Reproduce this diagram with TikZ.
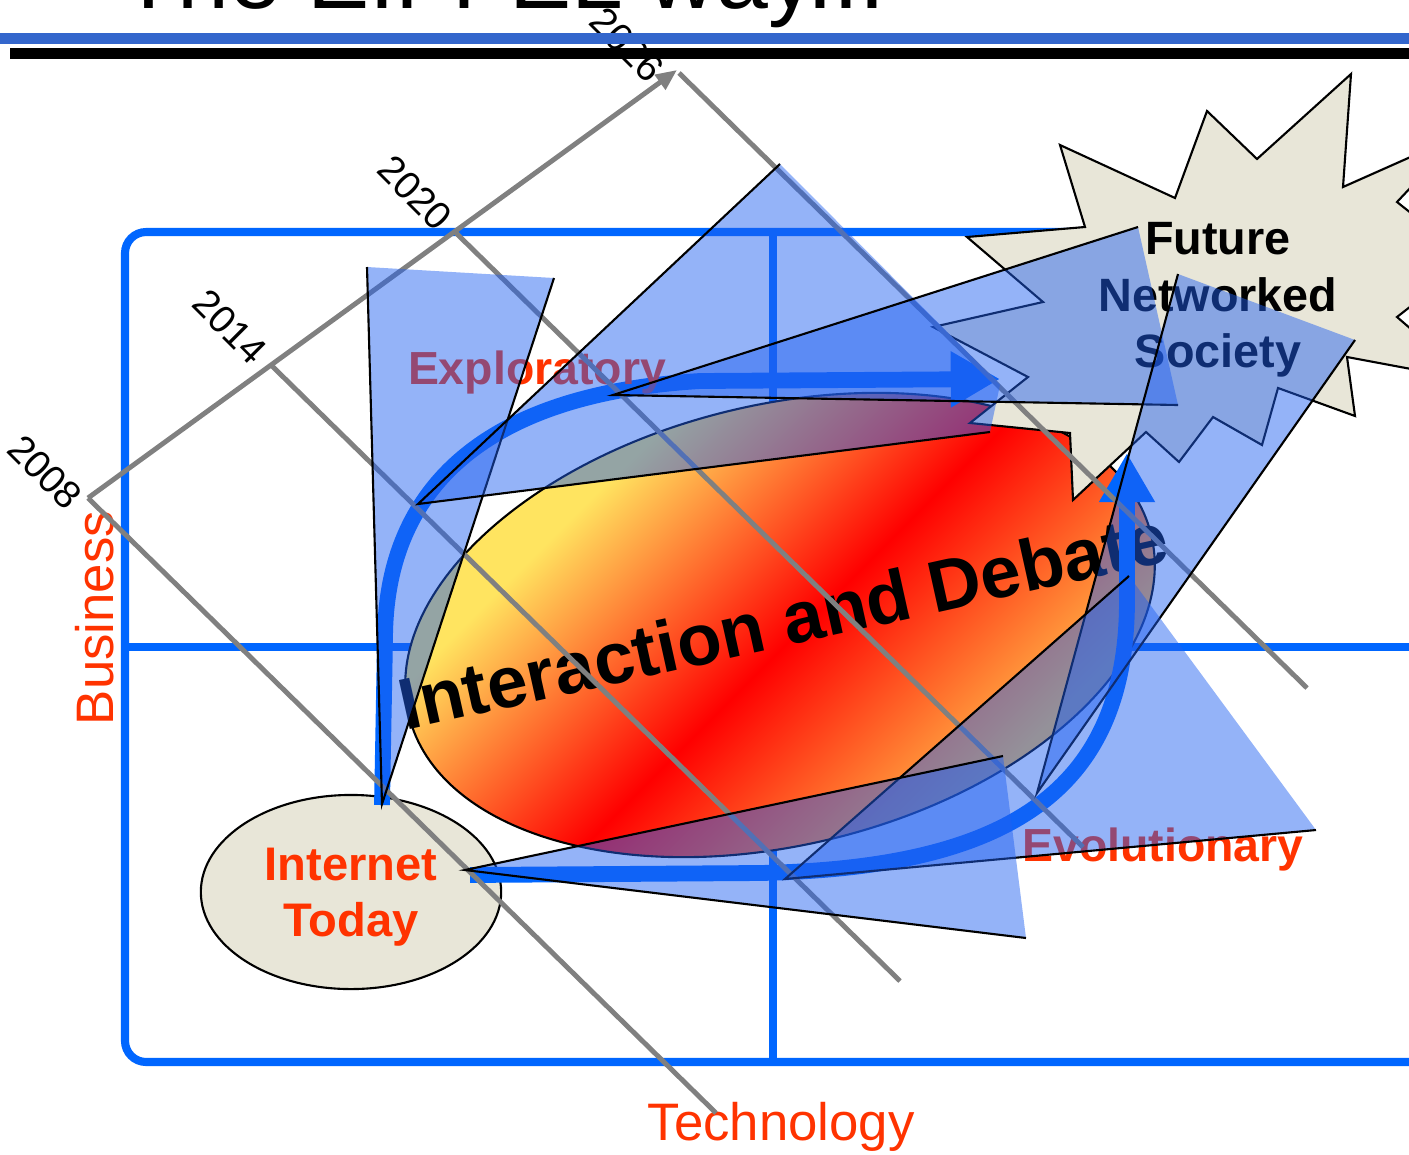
\documentclass[tikz,border=0pt]{standalone}
\usepackage{fontspec}
\setmainfont{Liberation Sans}
\usetikzlibrary{arrows.meta,shapes.geometric}

\definecolor{frameblue}{RGB}{0,102,255}
\definecolor{barblue}{RGB}{51,102,204}
\definecolor{axisgray}{RGB}{128,128,128}
\definecolor{labelred}{RGB}{255,51,0}
\definecolor{paper}{RGB}{232,230,216}
\definecolor{hatchblue}{RGB}{32,96,240}
\definecolor{sunyellow}{RGB}{255,228,96}
\definecolor{sunorange}{RGB}{255,190,75}

\pgfdeclarehorizontalshading{debateshade}{100bp}{color(0bp)=(sunyellow); color(31bp)=(sunyellow);
  color(50bp)=(red); color(69bp)=(sunorange); color(100bp)=(sunorange)}

\tikzset{
  frameline/.style={frameblue, line width=2.3pt},
  yearline/.style={axisgray, line width=1.4pt},
  yearlabel/.style={rotate=-45, font=\fontsize{11}{12}\selectfont},
  axislabel/.style={text=labelred, font=\fontsize{15}{16}\selectfont},
  phaselabel/.style={text=labelred, font=\bfseries\fontsize{13.2}{16}\selectfont},
  bigarrow/.style={frameblue, line width=4.5pt, -{Triangle[length=14pt,width=15pt]}},
  hatchzone/.style={fill=hatchblue, fill opacity=0.48},
  edge/.style={black, line width=0.6pt},
}

\begin{document}
\begin{tikzpicture}[x=0.01cm, y=-0.01cm]
  \useasboundingbox (0,0) rectangle (1409,1154);

  %%%%% FRAME %%%%%
  \draw[frameline, rounded corners=6pt] (125,232) rectangle (1450,1062);
  \draw[frameline] (125,647) -- (1409,647);
  \draw[frameline] (773,232) -- (773,1062);

  \node[axislabel, rotate=90] (business) at (95,618) {Business};
  \node[axislabel] (technology) at (781,1127) {Technology};

  \node[draw, ellipse, fill=paper, line width=0.6pt, minimum width=85.4pt,
        minimum height=55.2pt, inner sep=0pt] (today) at (351,892) {};
  \node[align=center, text=labelred, font=\bfseries\fontsize{13.4}{15.9}\selectfont]
    (todaytext) at (351,897) {Internet\\Today};

  %%%%% DEBATE %%%%%
  \shadedraw[rotate around={13.7:(780,625)}, line width=0.6pt, shading=debateshade, shading angle=-45]
    (780,625) ellipse [x radius=382, y radius=220];
  \node[rotate=12.5, font=\bfseries\fontsize{20.7}{24}\selectfont] (debate) at (783,620) {Interaction and Debate};

  \draw[bigarrow] (382,805) -- (385,640) .. controls (385,500) and (470,395) .. (700,381) -- (1000,379);
  \draw[bigarrow] (470,875) -- (760,873) .. controls (1010,868) and (1127,790) .. (1127,600) -- (1127,453);

  %%%%% STAR %%%%%
  \draw[fill=paper, line width=0.6pt] (1351,74) -- (1257,159) -- (1207,111) -- (1175,198)
    -- (1060,145) -- (1085,227) -- (967,237) -- (1043,302) -- (933,327) -- (1028,377)
    -- (970,423) -- (1070,433) -- (1073,500) -- (1146,432) -- (1179,462) -- (1213,417)
    -- (1262,445) -- (1278,388) -- (1355,416) -- (1347,357) -- (1470,380) -- (1397,317)
    -- (1470,260) -- (1397,202) -- (1460,135) -- (1343,187) -- cycle;
  \node[align=center, font=\bfseries\fontsize{13.3}{16}\selectfont] (future) at (1218,300) {Future\\Networked\\Society};

  \node[phaselabel] (explo) at (537,372) {Exploratory};
  \node[phaselabel] (evol) at (1163,849) {Evolutionary};

  %%%%% TIME AXIS %%%%%
  \draw[yearline, -{Triangle[length=6pt,width=5pt]}] (88,498) -- (677,70);
  \foreach \x/\y/\yr/\lx/\ly in {88/498/2008/45/472, 272/366/2014/230/327,
                                 455/232/2020/415/193, 679/73/2026/627/45}
  {
    \draw[yearline] (\x,\y) -- ++(628,615);
    \node[yearlabel] (y\yr) at (\lx,\ly) {\yr};
  }

  %%%%% HATCHES %%%%%
  \fill[hatchzone] (367,267) -- (554,278) -- (382,804) -- cycle;
  \draw[edge] (367,267) -- (382,804) -- (554,278);

  \fill[hatchzone] (418,504) -- (780,164) -- (1000,385) -- (990,432) -- cycle;
  \draw[edge] (780,164) -- (418,504) -- (990,432);

  \fill[hatchzone] (613,395) -- (1138,227) -- (1178,405) -- cycle;
  \draw[edge] (1138,227) -- (613,395) -- (1178,405);

  \fill[hatchzone] (1037,793) -- (1178,274) -- (1355,340) -- cycle;
  \draw[edge] (1178,274) -- (1037,793) -- (1355,340);

  \fill[hatchzone] (785,879) -- (1129,576) -- (1316,830) -- cycle;
  \draw[edge] (1129,576) -- (785,879) -- (1316,830);

  \fill[hatchzone] (465,870) -- (1003,756) -- (1026,938) -- cycle;
  \draw[edge] (1003,756) -- (465,870) -- (1026,938);

  %%%%% TITLE %%%%%
  \node[anchor=base west, font=\fontsize{26.5}{30}\selectfont, inner sep=0pt] (title) at (120,8) {The EIFFEL way...};
  \fill[barblue] (0,33) rectangle (1409,44);
  \fill[black] (10,48) rectangle (1409,59);
\end{tikzpicture}
\end{document}
